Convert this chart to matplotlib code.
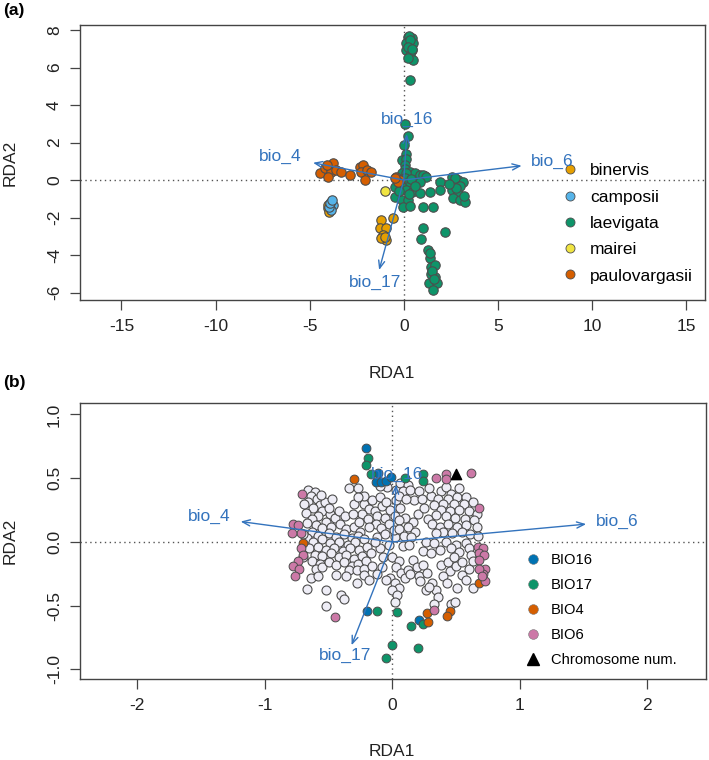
import numpy as np
import matplotlib
matplotlib.use('Agg')
import matplotlib.pyplot as plt
from matplotlib.lines import Line2D

plt.rcParams['font.family'] = ['Liberation Sans', 'DejaVu Sans']
plt.rcParams['axes.unicode_minus'] = False

# ---------------- panel (a): species scores ----------------
species = ['binervis', 'camposii', 'laevigata', 'mairei', 'paulovargasii']
species_colors = ['#E69F00', '#56B4E9', '#0E9469', '#F0E442', '#D55E00']

binervis_x = [-4.05, -3.95, -4.00, -1.19, -0.57, -1.28, -0.92, -1.10, -0.92, -1.19, -1.01]
binervis_y = [-1.50, -1.70, -1.35, -2.13, -2.04, -2.58, -2.58, -2.93, -3.20, -3.11, -3.02]

camposii_x = [-3.85, -3.78, -3.85, -3.95, -3.90, -3.82]
camposii_y = [-1.15, -1.35, -1.60, -1.45, -1.25, -1.05]

mairei_x = [-1.01]
mairei_y = [-0.57]

paulo_x = [-4.47, -4.20, -3.94, -3.76, -3.85, -3.58, -3.31, -4.03, -2.87, -2.34,
           -2.16, -2.25, -1.98, -1.72, -2.07, -0.39, -0.21, -0.30, -0.48, -4.10]
paulo_y = [0.36, 0.62, 0.71, 0.89, 0.44, 0.53, 0.44, 0.18, 0.27, 0.71,
           0.80, 0.44, 0.53, 0.44, 0.00, 0.18, 0.00, -0.09, 0.09, 0.80]

laev_x = [0.23, 0.41, 0.14, 0.50, 0.14, 0.41, 0.32, 0.50, 0.23, 0.30, 0.35, 0.20, 0.45, 0.32,
          0.05, 0.23, 0.00, 0.11, -0.07, 0.14, 0.05,
          0.05, 0.32, 0.59, 0.85, 1.12, -0.12, 0.14, 1.03, 1.20, -0.12,
          0.23, 0.59, -0.48, -0.12, 0.14, 0.41, 0.85, 1.38, 1.91, 1.91,
          2.54, 2.89, 3.15, 2.54, 2.89, 2.62, 2.98, 3.24, -0.48, -0.12,
          0.23, -0.04, 0.32, 1.03, 1.56, 0.85, 0.05, 0.40, 0.60, 0.30,
          -0.25, 2.70, 3.00, 2.75, 3.20, 2.40,
          1.03, 2.18, 0.94, 1.29, 1.38, 1.42, 1.65, 1.47, 1.65, 1.35,
          1.74, 1.56, 1.52, 1.40, 1.60]
laev_y = [7.64, 7.56, 7.29, 7.29, 6.93, 6.93, 6.67, 6.40, 6.49, 7.70, 7.45, 7.10, 7.00, 5.33,
          2.99, 2.35, 1.87, 1.39, 1.07, 1.10, 0.80,
          0.57, 0.44, 0.36, 0.27, 0.21, 0.36, 0.36, 0.27, 0.18, -0.09,
          -0.09, -0.09, -0.36, -0.36, -0.53, -0.62, -0.71, -0.62, -0.09, -0.53,
          0.18, 0.00, -0.09, -0.53, -0.71, -0.98, -1.07, -1.16, -0.89, -1.07,
          -1.07, -1.42, -1.39, -1.42, -1.42, -0.09, 0.10, 0.05, -0.30, -0.75,
          -0.60, 0.10, -0.30, -0.40, -0.85, -0.20,
          -2.54, -2.76, -3.16, -3.73, -4.18, -4.62, -4.53, -5.01, -5.19, -5.48,
          -5.51, -5.87, -4.84, -3.90, -5.30]

bio_names = ['bio_4', 'bio_6', 'bio_16', 'bio_17']
arrows_a_x = [-4.82, 6.26, 0.16, -1.31]
arrows_a_y = [0.92, 0.76, 2.45, -4.80]
labels_a_x = [-6.54, 7.90, 0.19, -1.50]
labels_a_y = [1.24, 0.98, 3.24, -5.48]

# ---------------- panel (b): SNP loadings ----------------
white_left = [
    (-0.66, 0.41), (-0.61, 0.39), (-0.64, 0.36), (-0.59, 0.34), (-0.66, 0.31), (-0.57, 0.29), (-0.62, 0.27),
    (-0.53, 0.31), (-0.47, 0.34), (-0.34, 0.42), (-0.27, 0.42), (-0.55, 0.24), (-0.68, 0.23), (-0.49, 0.22),
    (-0.58, 0.20), (-0.63, 0.18), (-0.52, 0.16), (-0.45, 0.19), (-0.60, 0.13), (-0.67, 0.15), (-0.55, 0.11),
    (-0.48, 0.12), (-0.41, 0.14), (-0.36, 0.10), (-0.30, 0.12), (-0.25, 0.08), (-0.63, 0.08), (-0.58, 0.05),
    (-0.50, 0.07), (-0.44, 0.04), (-0.38, 0.06), (-0.32, 0.03), (-0.27, 0.05), (-0.67, 0.03), (-0.62, 0.00),
    (-0.55, 0.02), (-0.49, -0.01), (-0.42, 0.00), (-0.35, -0.02), (-0.29, 0.00), (-0.22, 0.02), (-0.65, -0.05),
    (-0.58, -0.04), (-0.52, -0.06), (-0.46, -0.05), (-0.39, -0.07), (-0.33, -0.05), (-0.26, -0.06), (-0.20, -0.04),
    (-0.61, -0.10), (-0.55, -0.11), (-0.48, -0.09), (-0.42, -0.12), (-0.36, -0.10), (-0.30, -0.13), (-0.24, -0.11),
    (-0.17, -0.09), (-0.63, -0.15), (-0.57, -0.17), (-0.60, -0.21), (-0.55, -0.20), (-0.50, -0.16), (-0.44, -0.18),
    (-0.38, -0.16), (-0.32, -0.19), (-0.27, -0.17), (-0.21, -0.15), (-0.34, -0.22), (-0.28, -0.22), (-0.22, -0.21),
    (-0.16, -0.19), (-0.44, -0.26), (-0.36, -0.27), (-0.22, -0.26), (-0.64, -0.28), (-0.58, -0.27), (-0.67, -0.37),
    (-0.52, -0.38), (-0.40, -0.42), (-0.38, -0.45), (-0.52, -0.50), (-0.28, -0.32), (-0.18, -0.30), (-0.70, 0.06),
    (-0.70, -0.12), (-0.69, 0.30), (-0.56, 0.37), (-0.50, 0.27), (-0.42, 0.24), (-0.37, 0.20),
]
white_mid = [
    (-0.22, 0.30), (-0.18, 0.26), (-0.24, 0.22), (-0.14, 0.24), (-0.19, 0.18), (-0.12, 0.20), (-0.08, 0.28),
    (-0.16, 0.33), (-0.10, 0.35), (-0.05, 0.31), (-0.02, 0.25), (-0.06, 0.19), (-0.13, 0.14), (-0.03, 0.14),
    (0.02, 0.20), (0.03, 0.33), (0.03, 0.41), (-0.09, 0.11), (-0.18, 0.12), (-0.22, 0.36), (-0.04, 0.43),
    (-0.10, 0.44), (-0.30, 0.30), (-0.12, 0.04), (-0.06, 0.06), (0.02, 0.04), (-0.03, -0.02), (-0.10, -0.05),
    (-0.14, 0.00), (-0.07, -0.12), (0.00, -0.12), (0.05, -0.15), (0.03, -0.20), (0.07, -0.24), (-0.02, -0.28),
    (0.02, -0.32), (0.05, -0.36), (0.00, -0.38), (0.04, -0.42), (0.02, -0.47), (-0.05, -0.30), (-0.08, -0.20),
    (0.10, -0.28), (0.12, -0.22), (-0.12, -0.25), (0.01, 0.09), (-0.26, 0.16), (-0.31, 0.22), (-0.27, 0.35),
    (0.06, 0.27),
]
white_right = [
    (0.06, 0.46), (0.12, 0.45), (0.08, 0.40), (0.14, 0.41), (0.05, 0.36), (0.17, 0.33), (0.11, 0.34),
    (0.21, 0.40), (0.23, 0.34), (0.30, 0.36), (0.38, 0.40), (0.42, 0.43), (0.46, 0.38), (0.36, 0.34),
    (0.44, 0.34), (0.51, 0.35), (0.58, 0.35), (0.40, 0.30), (0.48, 0.30), (0.56, 0.30), (0.63, 0.31),
    (0.33, 0.29), (0.38, 0.25), (0.45, 0.24), (0.52, 0.25), (0.60, 0.24), (0.66, 0.22), (0.34, 0.21),
    (0.42, 0.20), (0.49, 0.19), (0.57, 0.18), (0.64, 0.17), (0.28, 0.18), (0.20, 0.22), (0.16, 0.16),
    (0.10, 0.19), (0.05, 0.17), (0.12, 0.12), (0.31, 0.14), (0.37, 0.12), (0.44, 0.14), (0.51, 0.12),
    (0.58, 0.13), (0.66, 0.12), (0.40, 0.08), (0.47, 0.07), (0.55, 0.08), (0.61, 0.06), (0.34, 0.07),
    (0.05, 0.10), (0.18, 0.08), (0.09, 0.05), (0.15, 0.04), (0.26, 0.00), (0.33, -0.01), (0.42, 0.00),
    (0.50, -0.02), (0.58, -0.01), (0.67, 0.05), (0.08, -0.03), (0.13, -0.02), (0.24, -0.07), (0.30, -0.09),
    (0.37, -0.06), (0.46, -0.05), (0.52, -0.08), (0.60, -0.05), (0.62, -0.10), (0.16, -0.14), (0.19, -0.20),
    (0.14, -0.25), (0.21, -0.27), (0.24, -0.18), (0.27, -0.24), (0.22, -0.31), (0.31, -0.32), (0.38, -0.18),
    (0.44, -0.16), (0.45, -0.23), (0.50, -0.19), (0.48, -0.12), (0.55, -0.16), (0.60, -0.21), (0.63, -0.15),
    (0.55, -0.26), (0.40, -0.27), (0.34, -0.38), (0.26, -0.38), (0.29, -0.35), (0.36, -0.43), (0.33, -0.49),
    (0.46, -0.49), (0.49, -0.47), (0.51, -0.36), (0.63, -0.36), (0.58, -0.30), (0.43, -0.32), (0.29, 0.42),
    (0.52, 0.42), (0.25, 0.27),
]

bio16_x = [-0.21, -0.115, -0.13, -0.09, -0.05, -0.01, -0.20, 0.21]
bio16_y = [0.74, 0.54, 0.47, 0.47, 0.48, 0.51, -0.54, -0.61]
bio17_x = [-0.19, -0.21, -0.17, 0.10, 0.24, 0.24, -0.12, 0.04, 0.15, 0.24, 0.00, 0.20, -0.05]
bio17_y = [0.66, 0.60, 0.53, 0.50, 0.53, 0.48, -0.54, -0.55, -0.66, -0.64, -0.81, -0.83, -0.91]
bio4_x = [-0.30, -0.70, 0.68, 0.27, 0.28, 0.45, 0.43]
bio4_y = [0.49, -0.01, -0.32, -0.56, -0.63, -0.54, -0.58]
bio6_x = [-0.71, -0.78, -0.74, -0.72, -0.79, -0.72, -0.70, -0.74, -0.78, -0.73, -0.76,
          0.67, 0.71, 0.68, 0.72, 0.68, 0.73, 0.71, 0.68, 0.73, 0.70, 0.68, 0.33, 0.34,
          0.42, 0.42, 0.62, -0.45]
bio6_y = [0.38, 0.14, 0.13, 0.07, 0.07, -0.05, -0.10, -0.15, -0.19, -0.21, -0.27,
          -0.04, -0.05, -0.09, -0.10, -0.14, -0.21, -0.25, -0.21, -0.31, -0.27, 0.27, -0.53, 0.50,
          0.53, 0.49, 0.54, -0.59]
chrom_x = [0.50]
chrom_y = [0.53]

snp_groups = ['BIO16', 'BIO17', 'BIO4', 'BIO6']
snp_colors = ['#0072B2', '#0E9469', '#D55E00', '#CC79A7']

arrows_b_x = [-1.19, 1.52, 0.03, -0.32]
arrows_b_y = [0.16, 0.14, 0.45, -0.81]
labels_b_x = [-1.44, 1.76, 0.035, -0.37]
labels_b_y = [0.20, 0.16, 0.53, -0.89]

ARROW = '#3373BD'
EDGE = '#4D4D4D'
W, H = 709, 760


def frame(ax, xlim, ylim, xticks, yticks, ylabels=None):
    ax.set_xlim(xlim)
    ax.set_ylim(ylim)
    ax.set_xticks(xticks)
    ax.set_yticks(yticks)
    if ylabels is not None:
        ax.set_yticklabels(ylabels)
    for s in ax.spines.values():
        s.set_color('#444444')
        s.set_linewidth(1.0)
    ax.tick_params(length=7, width=0.9, color='#444444', labelsize=12.5, labelcolor='#222222')
    ax.tick_params(axis='x', pad=7)
    ax.tick_params(axis='y', pad=6, labelrotation=90)
    for t in ax.get_yticklabels():
        t.set_va('center')
    ax.axhline(0, color='#555555', lw=1, ls=(0, (1, 2.5)), zorder=1)
    ax.axvline(0, color='#555555', lw=1, ls=(0, (1, 2.5)), zorder=1)


def arrows(ax, hx, hy, lx, ly):
    for name, x, y, tx, ty in zip(bio_names, hx, hy, lx, ly):
        ax.annotate('', xy=(x, y), xytext=(0, 0), zorder=5,
                    arrowprops=dict(arrowstyle='->,head_length=0.55,head_width=0.22',
                                    color=ARROW, lw=1.0, shrinkA=0, shrinkB=0))
        ax.text(tx, ty, name, color=ARROW, fontsize=12.5, ha='center', va='center', zorder=6)


fig = plt.figure(figsize=(W / 100, H / 100), dpi=100)

# panel (a)
ax1 = fig.add_axes([80 / W, 1 - 300 / H, 625 / W, 275 / H])
frame(ax1, (-17.2, 16.0), (-6.4, 8.27), [-15, -10, -5, 0, 5, 10, 15], [-6, -4, -2, 0, 2, 4, 6, 8])
sp_x = [binervis_x, camposii_x, laev_x, mairei_x, paulo_x]
sp_y = [binervis_y, camposii_y, laev_y, mairei_y, paulo_y]
for xs, ys, c in zip(sp_x, sp_y, species_colors):
    ax1.scatter(xs, ys, s=46, c=c, edgecolors=EDGE, linewidths=0.8, zorder=3)
arrows(ax1, arrows_a_x, arrows_a_y, labels_a_x, labels_a_y)
h1 = [Line2D([], [], ls='', marker='o', ms=6.5, mfc=c, mec=EDGE, mew=0.6) for c in species_colors]
ax1.legend(h1, species, loc='upper left', bbox_to_anchor=(0.776, 0.497), frameon=False,
           fontsize=12.5, handlelength=0.6, handletextpad=0.85, labelspacing=0.64,
           borderpad=0, borderaxespad=0)

# panel (b)
ax2 = fig.add_axes([80 / W, 1 - 679 / H, 626 / W, 276 / H])
frame(ax2, (-2.45, 2.46), (-1.075, 1.09), [-2, -1, 0, 1, 2], [-1.0, -0.5, 0.0, 0.5, 1.0],
      ['-1.0', '-0.5', '0.0', '0.5', '1.0'])
for pts in [white_left, white_mid, white_right]:
    arr = np.array(pts)
    ax2.scatter(arr[:, 0], arr[:, 1], s=42, c='#EEEDF6', edgecolors=EDGE, linewidths=0.8, zorder=2)
grp_x = [bio16_x, bio17_x, bio4_x, bio6_x]
grp_y = [bio16_y, bio17_y, bio4_y, bio6_y]
for xs, ys, c in zip(grp_x, grp_y, snp_colors):
    ax2.scatter(xs, ys, s=40, c=c, edgecolors=EDGE, linewidths=0.7, zorder=3)
ax2.scatter(chrom_x, chrom_y, s=55, marker='^', c='black', zorder=4)
arrows(ax2, arrows_b_x, arrows_b_y, labels_b_x, labels_b_y)
h2 = [Line2D([], [], ls='', marker='o', ms=7, mfc=c, mec='#777777', mew=0.4) for c in snp_colors]
h2.append(Line2D([], [], ls='', marker='^', ms=8, mfc='black', mec='black'))
ax2.legend(h2, snp_groups + ['Chromosome num.'], loc='upper left', bbox_to_anchor=(0.716, 0.455),
           frameon=False, fontsize=10.6, handlelength=0.6, handletextpad=0.95, labelspacing=0.74,
           borderpad=0, borderaxespad=0)

# labels
fig.text(14 / W, 1 - 10 / H, '(a)', fontsize=12.5, fontweight='bold', ha='center', va='center')
fig.text(14 / W, 1 - 383 / H, '(b)', fontsize=12.5, fontweight='bold', ha='center', va='center')
fig.text(392 / W, 1 - 374 / H, 'RDA1', fontsize=12.5, ha='center', va='center', color='#222222')
fig.text(392 / W, 1 - 751 / H, 'RDA1', fontsize=12.5, ha='center', va='center', color='#222222')
fig.text(10 / W, 1 - 163 / H, 'RDA2', fontsize=12.5, rotation=90, ha='center', va='center', color='#222222')
fig.text(10 / W, 1 - 541 / H, 'RDA2', fontsize=12.5, rotation=90, ha='center', va='center', color='#222222')

fig.savefig('out.png', dpi=100)
